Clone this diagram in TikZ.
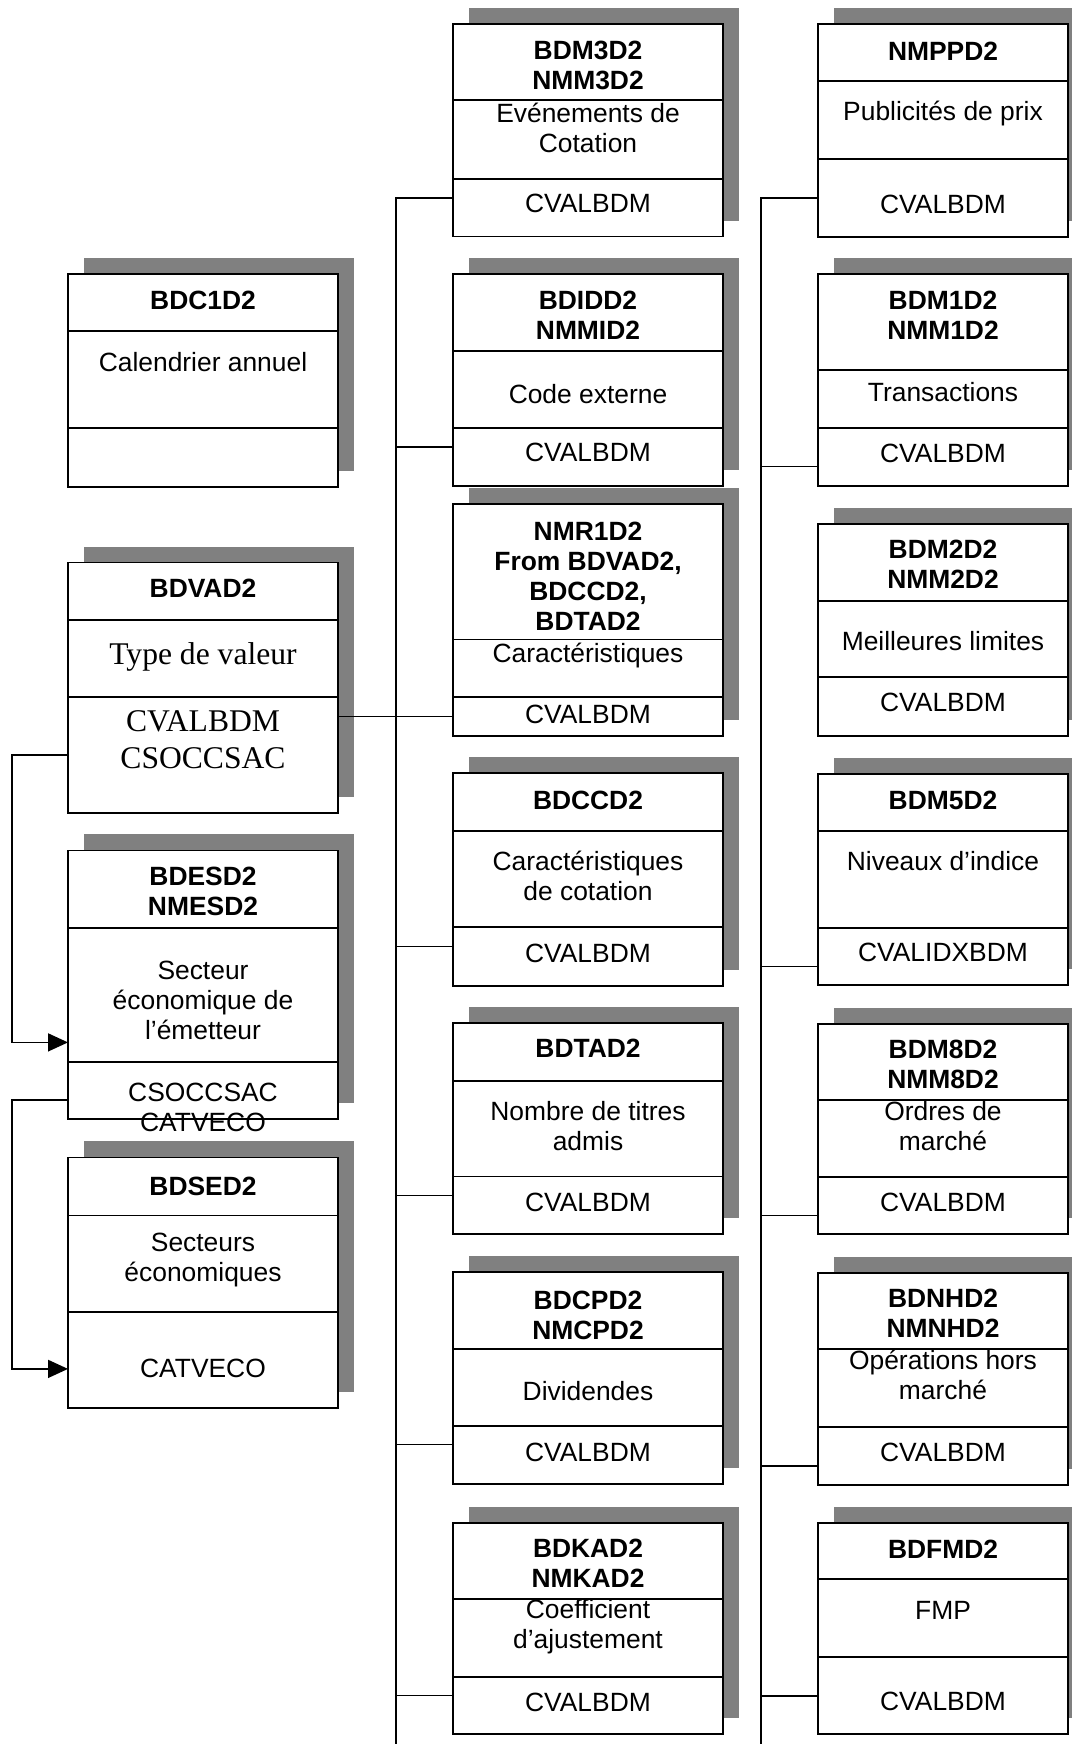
\documentclass[tikz,border=0pt]{standalone}
\usepackage{fontspec}
\setmainfont{Liberation Sans}
\newfontfamily\timesfont{Liberation Serif}
\usetikzlibrary{positioning,arrows.meta,backgrounds}

\begin{document}
\begin{tikzpicture}[
    x=0.5pt, y=-0.5pt,
    cell/.style={rectangle, draw, line width=0.9pt, fill=white, minimum width=135pt, inner sep=0pt, outer sep=0pt},
    narrow/.style={minimum width=125pt},
    ttl/.style={font=\fontsize{13.2}{15}\selectfont\bfseries, align=center, inner sep=0pt},
    txt/.style={font=\fontsize{13.2}{15}\selectfont, align=center, inner sep=0pt},
    serif/.style={font=\timesfont\fontsize{15.8}{18.6}\selectfont, align=center, inner sep=0pt},
    shadowfill/.style={fill=gray},
    link/.style={line width=0.8pt},
    arrowlink/.style={link, -{Triangle[length=10pt, width=9pt]}},
]
\useasboundingbox (0,0) rectangle (1071,1744);

% Left column
\node[cell, anchor=north west, minimum height=28.5pt] (bdc1t) at (68,274) {};
\node[cell, below=0pt of bdc1t, minimum height=48.5pt] (bdc1d) {};
\node[cell, below=0pt of bdc1d, minimum height=29.5pt] (bdc1k) {};
\node[ttl] (bdc1tt) at ([yshift=1pt]bdc1t.center) {BDC1D2};
\node[txt] (bdc1dt) at ([yshift=8.5pt]bdc1d.center) {Calendrier annuel};

\node[cell, anchor=north west, minimum height=28.8pt] (bvat) at (68,562.5) {};
\node[cell, below=0pt of bvat, minimum height=38.4pt] (bvad) {};
\node[cell, below=0pt of bvad, minimum height=58pt] (bvak) {};
\node[ttl] (bvatt) at ([yshift=1.7pt]bvat.center) {BDVAD2};
\node[serif] (bvadt) at ([yshift=0.7pt]bvad.center) {Type de valeur};
\node[serif] (bvakt) at ([yshift=7.5pt]bvak.center) {CVALBDM\\CSOCCSAC};

\node[cell, anchor=north west, minimum height=38.6pt] (besdt) at (68,850.4) {};
\node[cell, below=0pt of besdt, minimum height=67.2pt] (besdd) {};
\node[cell, below=0pt of besdd, minimum height=28.6pt] (besdk) {};
\node[ttl] (besdtt) at ([yshift=-1.4pt]besdt.center) {BDESD2\\NMESD2};
\node[txt] (besddt) at ([yshift=-2.6pt]besdd.center) {Secteur\\économique de\\l’émetteur};
\node[txt] (besdkt) at ([yshift=-8.3pt]besdk.center) {CSOCCSAC\\CATVECO};

\node[cell, anchor=north west, minimum height=29pt] (bsedt) at (68,1157.4) {};
\node[cell, below=0pt of bsedt, minimum height=48.1pt] (bsedd) {};
\node[cell, below=0pt of bsedd, minimum height=48.1pt] (bsedk) {};
\node[ttl] (bsedtt) at (bsedt) {BDSED2};
\node[txt] (bseddt) at ([yshift=1.8pt]bsedd.center) {Secteurs\\économiques};
\node[txt] (bsedkt) at ([yshift=-4.2pt]bsedk.center) {CATVECO};

% Middle column
\node[cell, anchor=north west, minimum height=38pt] (m3t) at (453,24) {};
\node[cell, below=0pt of m3t, minimum height=39.5pt] (m3d) {};
\node[cell, below=0pt of m3d, minimum height=28.8pt] (m3k) {};
\node[ttl] (m3tt) at ([yshift=-1.8pt]m3t.center) {BDM3D2\\NMM3D2};
\node[txt] (m3dt) at ([yshift=5.7pt]m3d.center) {Evénements de\\Cotation};
\node[txt] (m3kt) at ([yshift=2pt]m3k.center) {CVALBDM};

\node[cell, anchor=north west, minimum height=38.3pt] (midt) at (453,274) {};
\node[cell, below=0pt of midt, minimum height=38.8pt] (midd) {};
\node[cell, below=0pt of midd, minimum height=28.8pt] (midk) {};
\node[ttl] (midtt) at ([yshift=-1.7pt]midt.center) {BDIDD2\\NMMID2};
\node[txt] (middt) at ([yshift=-2.5pt]midd.center) {Code externe};
\node[txt] (midkt) at ([yshift=2.2pt]midk.center) {CVALBDM};

\node[cell, anchor=north west, minimum height=67.7pt] (mr1t) at (453,504) {};
\node[cell, below=0pt of mr1t, minimum height=28.7pt] (mr1d) {};
\node[cell, below=0pt of mr1d, minimum height=19.5pt] (mr1k) {};
\node[ttl] (mr1tt) at ([yshift=-2.5pt]mr1t.center) {NMR1D2\\From BDVAD2,\\BDCCD2,\\BDTAD2};
\node[txt] (mr1dt) at ([yshift=6.5pt]mr1d.center) {Caractéristiques};
\node[txt] (mr1kt) at ([yshift=1pt]mr1k.center) {CVALBDM};

\node[cell, anchor=north west, minimum height=28.8pt] (mcct) at (453,773.3) {};
\node[cell, below=0pt of mcct, minimum height=48.2pt] (mccd) {};
\node[cell, below=0pt of mccd, minimum height=29.2pt] (mcck) {};
\node[ttl] (mcctt) at ([yshift=1pt]mcct.center) {BDCCD2};
\node[txt] (mccdt) at ([yshift=1.5pt]mccd.center) {Caractéristiques\\de cotation};
\node[txt] (mcckt) at ([yshift=1.7pt]mcck.center) {CVALBDM};

\node[cell, anchor=north west, minimum height=28.8pt] (mtat) at (453,1023.3) {};
\node[cell, below=0pt of mtat, minimum height=47.8pt] (mtad) {};
\node[cell, below=0pt of mtad, minimum height=28.8pt] (mtak) {};
\node[ttl] (mtatt) at ([yshift=1.7pt]mtat.center) {BDTAD2};
\node[txt] (mtadt) at ([yshift=1.5pt]mtad.center) {Nombre de titres\\admis};
\node[txt] (mtakt) at ([yshift=1.7pt]mtak.center) {CVALBDM};

\node[cell, anchor=north west, minimum height=38.5pt] (mcpt) at (453,1272) {};
\node[cell, below=0pt of mcpt, minimum height=38.3pt] (mcpd) {};
\node[cell, below=0pt of mcpd, minimum height=29pt] (mcpk) {};
\node[ttl] (mcptt) at ([yshift=-2.2pt]mcpt.center) {BDCPD2\\NMCPD2};
\node[txt] (mcpdt) at ([yshift=-1.7pt]mcpd.center) {Dividendes};
\node[txt] (mcpkt) at ([yshift=1pt]mcpk.center) {CVALBDM};

\node[cell, anchor=north west, minimum height=38.2pt] (mkat) at (453,1522.7) {};
\node[cell, below=0pt of mkat, minimum height=38.8pt] (mkad) {};
\node[cell, below=0pt of mkad, minimum height=28.8pt] (mkak) {};
\node[ttl] (mkatt) at ([yshift=-1pt]mkat.center) {BDKAD2\\NMKAD2};
\node[txt] (mkadt) at ([yshift=5.5pt]mkad.center) {Coefficient\\d’ajustement};
\node[txt] (mkakt) at ([yshift=1.5pt]mkak.center) {CVALBDM};

% Right column
\node[cell, narrow, anchor=north west, minimum height=28.5pt] (rppt) at (818,24) {};
\node[cell, narrow, below=0pt of rppt, minimum height=39.2pt] (rppd) {};
\node[cell, narrow, below=0pt of rppd, minimum height=38.7pt] (rppk) {};
\node[ttl] (rpptt) at ([yshift=0.5pt]rppt.center) {NMPPD2};
\node[txt] (rppdt) at ([yshift=3.2pt]rppd.center) {Publicités de prix};
\node[txt] (rppkt) at ([yshift=-3pt]rppk.center) {CVALBDM};

\node[cell, narrow, anchor=north west, minimum height=48pt] (rm1t) at (818,274) {};
\node[cell, narrow, below=0pt of rm1t, minimum height=28.8pt] (rm1d) {};
\node[cell, narrow, below=0pt of rm1d, minimum height=29pt] (rm1k) {};
\node[ttl] (rm1tt) at ([yshift=3.2pt]rm1t.center) {BDM1D2\\NMM1D2};
\node[txt] (rm1dt) at ([yshift=3.2pt]rm1d.center) {Transactions};
\node[txt] (rm1kt) at ([yshift=1.5pt]rm1k.center) {CVALBDM};

\node[cell, narrow, anchor=north west, minimum height=38.3pt] (rm2t) at (818,524) {};
\node[cell, narrow, below=0pt of rm2t, minimum height=38.3pt] (rm2d) {};
\node[cell, narrow, below=0pt of rm2d, minimum height=29.2pt] (rm2k) {};
\node[ttl] (rm2tt) at ([yshift=-1pt]rm2t.center) {BDM2D2\\NMM2D2};
\node[txt] (rm2dt) at ([yshift=-1pt]rm2d.center) {Meilleures limites};
\node[txt] (rm2kt) at ([yshift=2pt]rm2k.center) {CVALBDM};

\node[cell, narrow, anchor=north west, minimum height=28.5pt] (rm5t) at (818,774) {};
\node[cell, narrow, below=0pt of rm5t, minimum height=48.3pt] (rm5d) {};
\node[cell, narrow, below=0pt of rm5d, minimum height=28.7pt] (rm5k) {};
\node[ttl] (rm5tt) at ([yshift=1pt]rm5t.center) {BDM5D2};
\node[txt] (rm5dt) at ([yshift=9pt]rm5d.center) {Niveaux d’indice};
\node[txt] (rm5kt) at ([yshift=2pt]rm5k.center) {CVALIDXBDM};

\node[cell, narrow, anchor=north west, minimum height=38pt] (rm8t) at (818,1024) {};
\node[cell, narrow, below=0pt of rm8t, minimum height=38.3pt] (rm8d) {};
\node[cell, narrow, below=0pt of rm8d, minimum height=28.8pt] (rm8k) {};
\node[ttl] (rm8tt) at ([yshift=-1pt]rm8t.center) {BDM8D2\\NMM8D2};
\node[txt] (rm8dt) at ([yshift=6.3pt]rm8d.center) {Ordres de\\marché};
\node[txt] (rm8kt) at ([yshift=1.5pt]rm8k.center) {CVALBDM};

\node[cell, narrow, anchor=north west, minimum height=38pt] (rnht) at (818,1273.3) {};
\node[cell, narrow, below=0pt of rnht, minimum height=39pt] (rnhd) {};
\node[cell, narrow, below=0pt of rnhd, minimum height=28.8pt] (rnhk) {};
\node[ttl] (rnhtt) at ([yshift=-1.2pt]rnht.center) {BDNHD2\\NMNHD2};
\node[txt] (rnhdt) at ([yshift=6.5pt]rnhd.center) {Opérations hors\\marché};
\node[txt] (rnhkt) at ([yshift=2pt]rnhk.center) {CVALBDM};

\node[cell, narrow, anchor=north west, minimum height=28.3pt] (rfmt) at (818,1522.7) {};
\node[cell, narrow, below=0pt of rfmt, minimum height=39pt] (rfmd) {};
\node[cell, narrow, below=0pt of rfmd, minimum height=38.5pt] (rfmk) {};
\node[ttl] (rfmtt) at ([yshift=1pt]rfmt.center) {BDFMD2};
\node[txt] (rfmdt) at ([yshift=3.8pt]rfmd.center) {FMP};
\node[txt] (rfmkt) at ([yshift=-3pt]rfmk.center) {CVALBDM};

% Shadows
\begin{pgfonlayer}{background}
\fill[shadowfill] ([shift={(8pt,8pt)}]bdc1t.north west) rectangle ([shift={(8pt,8pt)}]bdc1k.south east);
\fill[shadowfill] ([shift={(8pt,8pt)}]bvat.north west) rectangle ([shift={(8pt,8pt)}]bvak.south east);
\fill[shadowfill] ([shift={(8pt,8pt)}]besdt.north west) rectangle ([shift={(8pt,8pt)}]besdk.south east);
\fill[shadowfill] ([shift={(8pt,8pt)}]bsedt.north west) rectangle ([shift={(8pt,8pt)}]bsedk.south east);
\fill[shadowfill] ([shift={(8pt,8pt)}]m3t.north west) rectangle ([shift={(8pt,8pt)}]m3k.south east);
\fill[shadowfill] ([shift={(8pt,8pt)}]midt.north west) rectangle ([shift={(8pt,8pt)}]midk.south east);
\fill[shadowfill] ([shift={(8pt,8pt)}]mr1t.north west) rectangle ([shift={(8pt,8pt)}]mr1k.south east);
\fill[shadowfill] ([shift={(8pt,8pt)}]mcct.north west) rectangle ([shift={(8pt,8pt)}]mcck.south east);
\fill[shadowfill] ([shift={(8pt,8pt)}]mtat.north west) rectangle ([shift={(8pt,8pt)}]mtak.south east);
\fill[shadowfill] ([shift={(8pt,8pt)}]mcpt.north west) rectangle ([shift={(8pt,8pt)}]mcpk.south east);
\fill[shadowfill] ([shift={(8pt,8pt)}]mkat.north west) rectangle ([shift={(8pt,8pt)}]mkak.south east);
\fill[shadowfill] ([shift={(8pt,8pt)}]rppt.north west) rectangle ([shift={(8pt,8pt)}]rppk.south east);
\fill[shadowfill] ([shift={(8pt,8pt)}]rm1t.north west) rectangle ([shift={(8pt,8pt)}]rm1k.south east);
\fill[shadowfill] ([shift={(8pt,8pt)}]rm2t.north west) rectangle ([shift={(8pt,8pt)}]rm2k.south east);
\fill[shadowfill] ([shift={(8pt,8pt)}]rm5t.north west) rectangle ([shift={(8pt,8pt)}]rm5k.south east);
\fill[shadowfill] ([shift={(8pt,8pt)}]rm8t.north west) rectangle ([shift={(8pt,8pt)}]rm8k.south east);
\fill[shadowfill] ([shift={(8pt,8pt)}]rnht.north west) rectangle ([shift={(8pt,8pt)}]rnhk.south east);
\fill[shadowfill] ([shift={(8pt,8pt)}]rfmt.north west) rectangle ([shift={(8pt,8pt)}]rfmk.south east);
\end{pgfonlayer}

% Trunk ends
\coordinate (midend) at (396,1744);
\coordinate (rightend) at (761,1744);

% Middle trunk
\draw[link] ([yshift=5pt]m3k.west) -| (midend);
\draw[link] ([yshift=5pt]midk.west) -| (midend);
\draw[link] ([yshift=5pt]mcck.west) -| (midend);
\draw[link] ([yshift=5pt]mtak.west) -| (midend);
\draw[link] ([yshift=5pt]mcpk.west) -| (midend);
\draw[link] ([yshift=5pt]mkak.west) -| (midend);

% Right trunk
\draw[link] (rppk.west) -| (rightend);
\draw[link] ([yshift=-5pt]rm1k.west) -| (rightend);
\draw[link] ([yshift=-5pt]rm5k.west) -| (rightend);
\draw[link] ([yshift=-5pt]rm8k.west) -| (rightend);
\draw[link] ([yshift=-5pt]rnhk.west) -| (rightend);
\draw[link] (rfmk.west) -| (rightend);

% Cross links
\draw[link] (mr1k.west -| bvak.east) -- (mr1k.west);
\draw[arrowlink] (bvak.west) -- ++(-28pt,0) |- ([yshift=9.8pt]besdd.south west);
\draw[arrowlink] ([yshift=-4.6pt]besdk.west) -- ++(-28pt,0) |- ([yshift=-4.6pt]bsedk.west);

\end{tikzpicture}
\end{document}
